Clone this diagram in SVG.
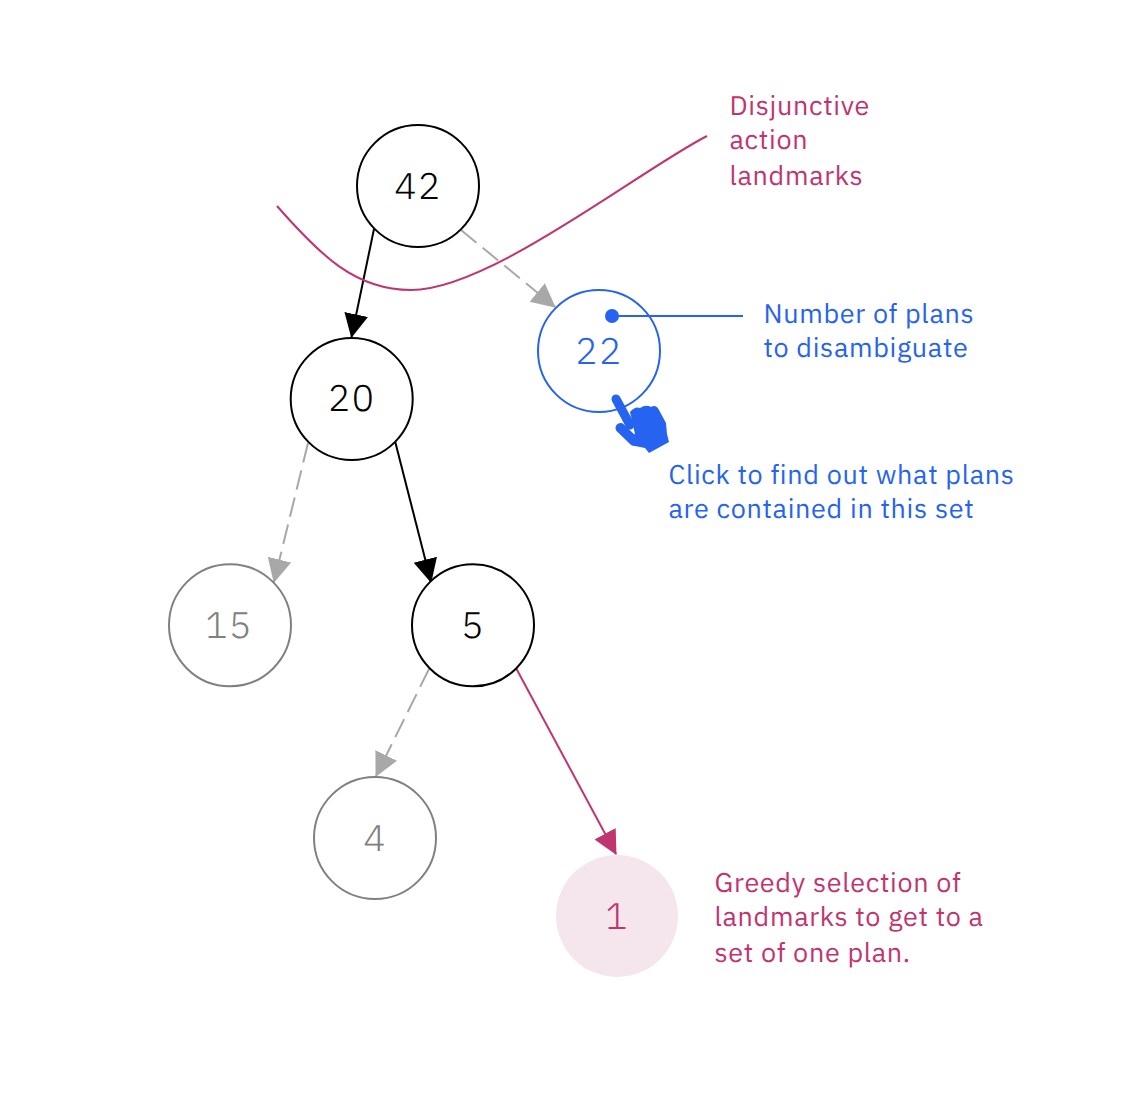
<svg xmlns="http://www.w3.org/2000/svg" width="1132" height="1094" viewBox="0 0 1132 1094">
<style>
text{font-family:"IBM Plex Sans","Inter","Noto Sans","Open Sans",sans-serif;text-rendering:geometricPrecision}
.num{font-size:37px;text-anchor:middle;font-weight:300;letter-spacing:1.5px}
.lab{font-size:27px;letter-spacing:.67px}
.n{fill:#fff;stroke:#000;stroke-width:2}
.g{fill:#fff;stroke:#808080;stroke-width:2}
.e{fill:none;stroke-width:2}
</style>
<defs>
<marker id="ab" markerUnits="userSpaceOnUse" markerWidth="28" markerHeight="26" refX="23" refY="13" orient="auto"><path d="M0 1L24 13L0 25Z" fill="#000"/></marker>
<marker id="ag" markerUnits="userSpaceOnUse" markerWidth="28" markerHeight="26" refX="23" refY="13" orient="auto"><path d="M0 1L24 13L0 25Z" fill="#a8a8a8"/></marker>
<marker id="am" markerUnits="userSpaceOnUse" markerWidth="28" markerHeight="26" refX="23" refY="13" orient="auto"><path d="M0 1L24 13L0 25Z" fill="#c03570"/></marker>
</defs>
<g id="connectors">
<path class="e" stroke="#000" d="M374 229L351.500 337" marker-end="url(#ab)"/>
<path class="e" stroke="#a8a8a8" stroke-dasharray="20 8" d="M461 230L555 307" marker-end="url(#ag)"/>
<path class="e" stroke="#a8a8a8" stroke-dasharray="20 8" d="M308 443L274 582" marker-end="url(#ag)"/>
<path class="e" stroke="#000" d="M395 441L431 582" marker-end="url(#ab)"/>
<path class="e" stroke="#a8a8a8" stroke-dasharray="20 8" d="M429 669L376 776" marker-end="url(#ag)"/>
<path class="e" stroke="#c03570" d="M516 668L616 854" marker-end="url(#am)"/>
</g>
<g id="curve"><path class="e" stroke="#c03570" d="M277 206C320 255 355 290 411 290C490 290 640 170 707 136"/></g>
<g id="n42"><circle class="n" cx="418" cy="186" r="61"/><text class="num" x="418" y="198.500">42</text></g>
<g id="n20"><circle class="n" cx="351.700" cy="399" r="61"/><text class="num" x="351.700" y="411">20</text></g>
<g id="n22"><circle cx="599" cy="351" r="61" fill="#fff" stroke="#2563f0" stroke-width="2"/><text class="num" x="599" y="363.500" fill="#2563f0">22</text></g>
<g id="n15"><circle class="g" cx="230" cy="625.300" r="61"/><text class="num" x="229" y="638" fill="#808080">15</text></g>
<g id="n5"><circle class="n" cx="473" cy="625.300" r="61"/><text class="num" x="473" y="638">5</text></g>
<g id="n4"><circle class="g" cx="375" cy="838" r="61"/><text class="num" x="375" y="850.500" fill="#808080">4</text></g>
<g id="n1"><circle cx="617" cy="916" r="61" fill="#f5e6ee"/><text class="num" x="617" y="928.500" fill="#c03570">1</text></g>
<g id="callout-plans">
<circle cx="612" cy="316" r="7" fill="#2563f0"/>
<path d="M612 316H743" stroke="#2563f0" stroke-width="2" fill="none"/>
<path d="M616 399L630 425" stroke="#2563f0" stroke-width="9" stroke-linecap="round" fill="none"/>
<path d="M620.500 428L634 441" stroke="#2563f0" stroke-width="10" stroke-linecap="round" fill="none"/>
<path d="M630 412Q635 406 640 408Q646 404 651 407Q656 404 659 410L666 423L667 434L669 442L649 453L645 448L635 446L627 438L635 434Z" fill="#2563f0"/>
</g>
<g id="labels">
<text class="lab" fill="#c03570"><tspan x="729.500" y="114.500">Disjunctive</tspan><tspan x="729.500" y="149">action</tspan><tspan x="729.500" y="184.500">landmarks</tspan></text>
<text class="lab" fill="#2563f0"><tspan x="763.500" y="322.500">Number of plans</tspan><tspan x="763.500" y="356.500">to disambiguate</tspan></text>
<text class="lab" fill="#2563f0"><tspan x="668.500" y="483.500">Click to find out what plans</tspan><tspan x="668.500" y="517.500">are contained in this set</tspan></text>
<text class="lab" fill="#c03570"><tspan x="714.500" y="891.500">Greedy selection of</tspan><tspan x="714.500" y="926">landmarks to get to a</tspan><tspan x="714.500" y="961.500">set of one plan.</tspan></text>
</g>
</svg>
